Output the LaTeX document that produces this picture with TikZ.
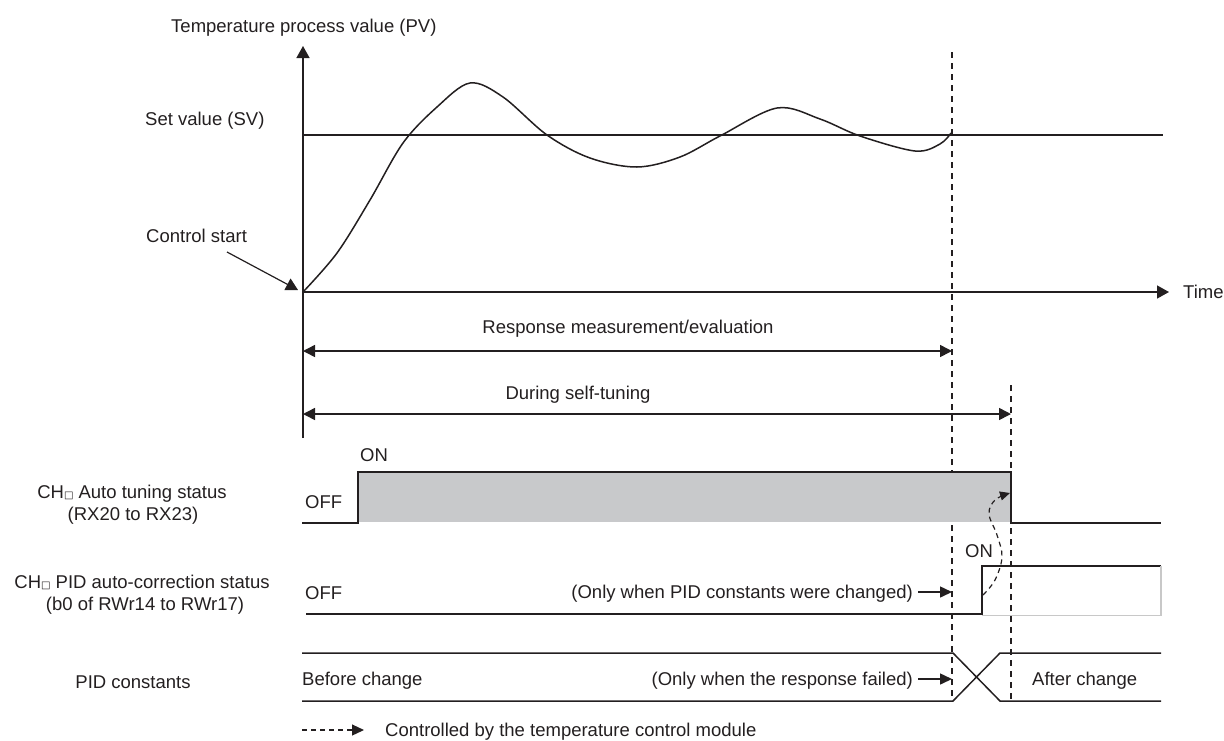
\documentclass[tikz,border=0pt]{standalone}
\usepackage{fontspec}
\setmainfont{Liberation Sans}
\newfontfamily\dejavu{DejaVu Sans}
\usetikzlibrary{arrows.meta}
\definecolor{ink}{RGB}{35,31,32}
\definecolor{fillg}{RGB}{200,201,203}
\definecolor{edgeg}{RGB}{200,200,200}
\newcommand{\chsq}{{\dejavu\fontsize{10}{10}\selectfont □}}
\begin{document}
\begin{tikzpicture}[x=1pt,y=-1pt,
  font=\fontsize{18.5}{22}\selectfont,
  every node/.style={text=ink, inner sep=0pt},
  ln/.style={draw=ink, line width=1.5pt},
  tri/.style={-{Triangle[length=12pt,width=13pt]}},
  twotri/.style={{Triangle[length=12pt,width=12pt]}-{Triangle[length=12pt,width=12pt]}},
  smalltri/.style={-{Triangle[length=12pt,width=11pt]}},
  dsh/.style={draw=ink, line width=1.3pt, dash pattern=on 6pt off 5pt},
  lbl/.style={anchor=base west},
  lblc/.style={anchor=base},
  lble/.style={anchor=base east}]
\useasboundingbox (0,0) rectangle (1224,740);

% ---------- axes ----------
\coordinate (O) at (303,292);
\coordinate (ytop) at (303,46);
\coordinate (ybot) at (303,438);
\coordinate (tend) at (1169,292);
\draw[ln,tri] (ybot) -- (ytop);
\node[lbl] (time) at (1183,298.5) {Time};
\draw[ln,tri] (O) -- (tend);

\node[lbl] (pv) at (171,32) {Temperature process value (PV)};
\node[lbl] (sv) at (145,125) {Set value (SV)};
\node[lbl] (cs) at (146,242) {Control start};

% set value line
\coordinate (sv0) at (303,135);
\coordinate (sv1) at (1163,135);
\draw[ln] (sv0) -- (sv1);

% control start arrow
\coordinate (csa) at (227,252);
\draw[ln,line width=1.2pt,tri] (csa) -- (298,290);

% PV curve
\draw[ln,line width=1.5pt] plot[smooth,tension=0.55] coordinates {
 (303,292) (337,253) (370,200) (403,143) (437,107) (470,83) (503,97)
 (547,135) (590,158) (637,167) (680,157) (720,136) (777,108) (820,119)
 (860,136) (915,151) (940,144) (951,133)};

% dashed vertical lines
\coordinate (d1t) at (952,52);
\coordinate (d1b) at (952,700);
\coordinate (d2t) at (1011,385);
\coordinate (d2b) at (1011,700);
\draw[dsh] (d1t) -- (d1b);
\draw[dsh] (d2t) -- (d2b);

% duration arrows
\node[lblc] (resp) at (628,333) {Response measurement/evaluation};
\draw[ln,twotri] (303,351) -- (952,351);
\node[lblc] (self) at (578,399) {During self-tuning};
\draw[ln,twotri] (303,414) -- (1011,414);

% ---------- auto tuning status ----------
\node[lblc] (at1) at (132,498) {CH\chsq{} Auto tuning status};
\node[lblc] (at2) at (133,520) {(RX20 to RX23)};
\node[lbl] (atoff) at (305,508) {OFF};
\node[lbl] (aton) at (360,461) {ON};
\fill[fillg] (358,472) rectangle (1011,522);
\draw[ln] (302,523) -- (358,523) -- (358,472) -- (1011,472) -- (1011,523) -- (1161,523);

% ---------- PID auto-correction status ----------
\node[lblc] (pc1) at (142,588) {CH\chsq{} PID auto-correction status};
\node[lblc] (pc2) at (145,610) {(b0 of RWr14 to RWr17)};
\node[lbl] (pcoff) at (305,599) {OFF};
\node[lbl] (pcon) at (965,557) {ON};
\draw[ln] (306,614) -- (982,614) -- (982,566) -- (1161,566);
\draw[draw=edgeg,line width=1.6pt] (1161,566) -- (1161,615.5) -- (982,615.5);
\node[lble] (chg) at (913,598) {(Only when PID constants were changed)};
\draw[ln,smalltri] ([xshift=5pt]chg.base east) ++(0,-6) -- (952,592);

% dashed curved arrow
\draw[draw=ink,line width=1.2pt,dash pattern=on 5pt off 4pt,-{Triangle[length=10pt,width=9pt]}]
  plot[smooth,tension=0.6] coordinates {(983,595) (995,580) (1002,557) (997,535) (989,514) (995,500) (1010,493)};

% ---------- PID constants ----------
\node[lblc] (pidc) at (133,688) {PID constants};
\node[lbl] (bef) at (302,685) {Before change};
\node[lbl] (aft) at (1032,685) {After change};
\node[lble] (fail) at (913,685) {(Only when the response failed)};
\draw[ln,smalltri] ([xshift=5pt]fail.base east) ++(0,-6) -- (952,679);
\draw[ln] (302,653) -- (953,653) -- (1000,701) -- (1161,701);
\draw[ln] (302,701) -- (953,701) -- (1000,653) -- (1161,653);

% ---------- legend ----------
\node[lbl] (leg) at (385,736) {Controlled by the temperature control module};
\coordinate (lg0) at (302,730);
\draw[draw=ink,line width=1.2pt,dash pattern=on 5pt off 4pt,smalltri] (lg0) -- (364,730);
\end{tikzpicture}
\end{document}
